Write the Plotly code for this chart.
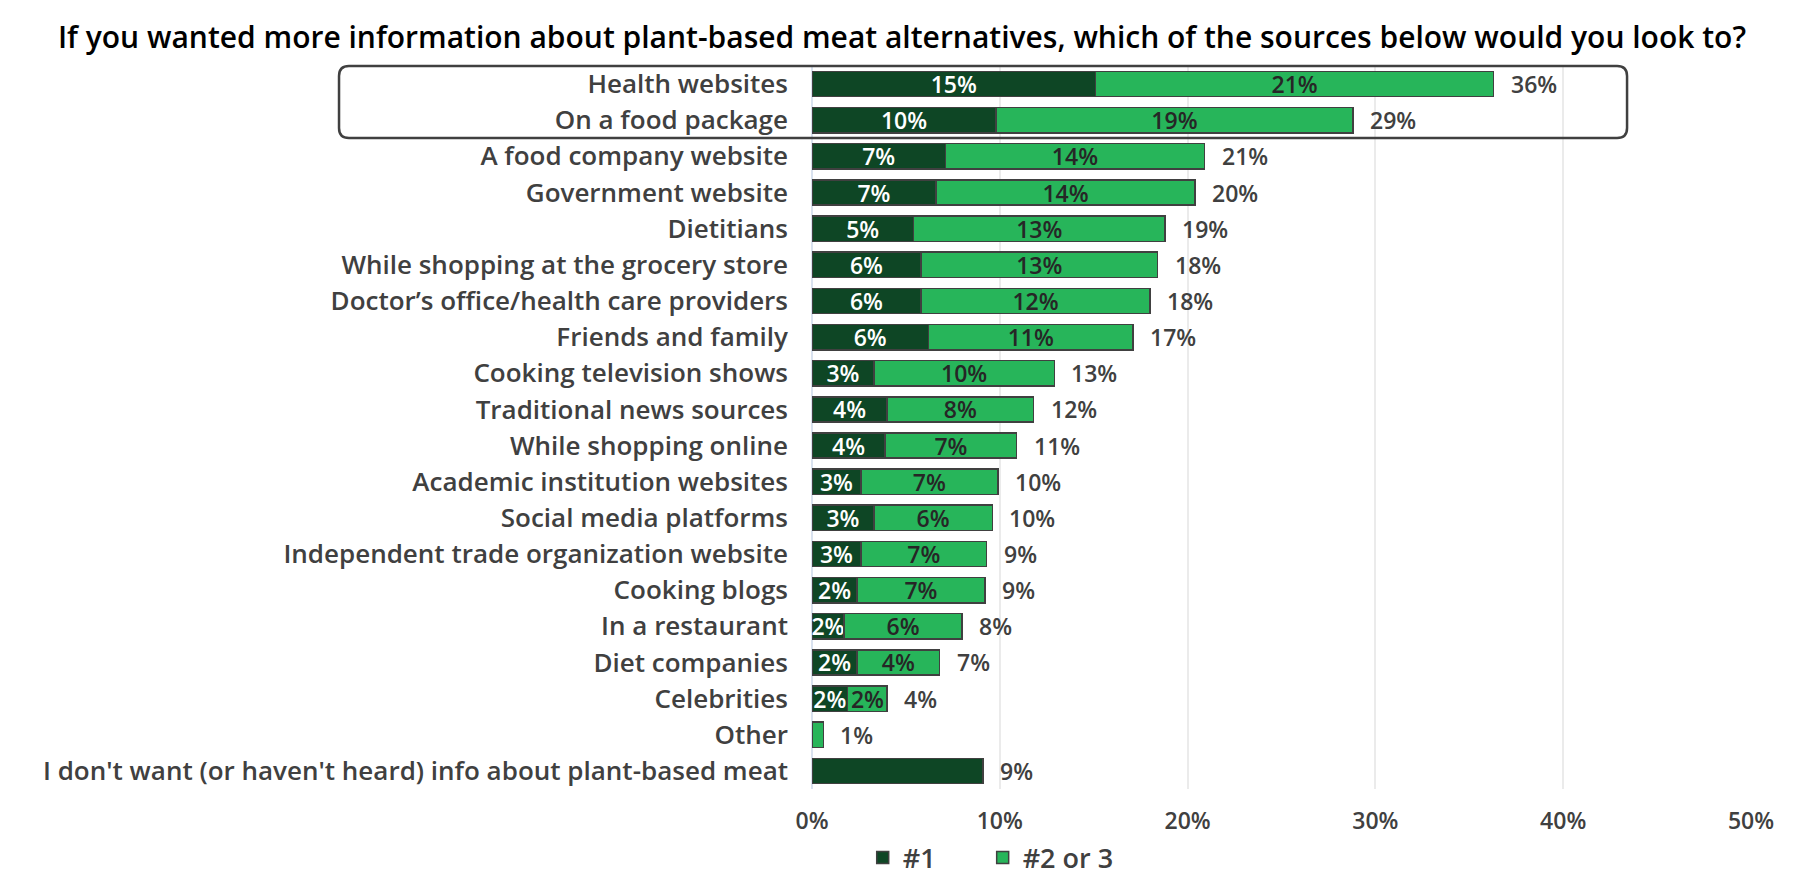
import plotly.graph_objects as go

# Survey: sources respondents would consult about plant-based meat alternatives (% of respondents)
sources = [
    "Health websites",
    "On a food package",
    "A food company website",
    "Government website",
    "Dietitians",
    "While shopping at the grocery store",
    "Doctor\u2019s office/health care providers",
    "Friends and family",
    "Cooking television shows",
    "Traditional news sources",
    "While shopping online",
    "Academic institution websites",
    "Social media platforms",
    "Independent trade organization website",
    "Cooking blogs",
    "In a restaurant",
    "Diet companies",
    "Celebrities",
    "Other",
]
rank_1 = [15.1, 9.8, 7.1, 6.6, 5.4, 5.8, 5.8, 6.2, 3.3, 4.0, 3.9, 2.6, 3.3, 2.6, 2.4, 1.7, 2.4, 1.9, 0.0]
rank_2_or_3 = [21.2, 19.0, 13.8, 13.8, 13.4, 12.6, 12.2, 10.9, 9.6, 7.8, 7.0, 7.3, 6.3, 6.7, 6.8, 6.3, 4.4, 2.1, 0.6]

no_interest_label = "I don't want (or haven't heard) info about plant-based meat"
no_interest_value = 9.1

x_ticks = [0, 10, 20, 30, 40, 50]

DARK = "#0e4625"
LIGHT = "#27b55a"
OUTLINE = "#404040"
TEXT = "#404040"
FONT = "Open Sans"
W = 600

categories = sources + [no_interest_label]


def pct(v):
    return f"{v:.0f}%" if v >= 0.95 else ""


fig = go.Figure()

fig.add_trace(go.Bar(
    name="#1" + "\u00a0" * 6,
    y=sources,
    x=rank_1,
    orientation="h",
    marker=dict(color=DARK, line=dict(color=OUTLINE, width=1.5)),
    text=[pct(v) for v in rank_1],
    textposition="inside",
    insidetextanchor="middle",
    textfont=dict(color="white", size=23, family=FONT, weight=W),
))
fig.add_trace(go.Bar(
    name="#2 or 3",
    y=sources,
    x=rank_2_or_3,
    orientation="h",
    marker=dict(color=LIGHT, line=dict(color=OUTLINE, width=1.5)),
    text=[pct(v) for v in rank_2_or_3],
    textposition="inside",
    insidetextanchor="middle",
    textfont=dict(color="#262626", size=23, family=FONT, weight=W),
))
fig.add_trace(go.Bar(
    name="No interest",
    y=[no_interest_label],
    x=[no_interest_value],
    orientation="h",
    marker=dict(color=DARK, line=dict(color=OUTLINE, width=1.5)),
    showlegend=False,
))

# Total labels to the right of each stacked bar
totals = [a + b for a, b in zip(rank_1, rank_2_or_3)] + [no_interest_value]
for cat, total in zip(categories, totals):
    fig.add_annotation(
        x=total, y=cat, xref="x", yref="y",
        text=f"{total:.0f}%", showarrow=False,
        xanchor="left", xshift=15,
        font=dict(size=23, color=TEXT, family=FONT, weight=W),
    )

# Rounded highlight frame around the two leading sources
x0, x1 = -0.5037, 0.868
y0, y1 = 0.9004, 1.0
rx, ry = 0.0106, 0.0138
frame = (
    f"M {x0 + rx},{y1} L {x1 - rx},{y1} Q {x1},{y1} {x1},{y1 - ry} "
    f"L {x1},{y0 + ry} Q {x1},{y0} {x1 - rx},{y0} "
    f"L {x0 + rx},{y0} Q {x0},{y0} {x0},{y0 + ry} "
    f"L {x0},{y1 - ry} Q {x0},{y1} {x0 + rx},{y1} Z"
)
fig.add_shape(type="path", path=frame, xref="paper", yref="paper",
              line=dict(color=OUTLINE, width=2.5), layer="above")

fig.update_layout(
    width=1804, height=882,
    margin=dict(l=812, r=53, t=66, b=93),
    paper_bgcolor="white", plot_bgcolor="white",
    barmode="stack", bargap=0.3,
    uniformtext=dict(minsize=23, mode="show"),
    font=dict(family=FONT, size=26, color=TEXT, weight=W),
    title=dict(
        text="If you wanted more information about plant-based meat alternatives, which of the sources below would you look to?",
        x=0.5, xanchor="center", y=1 - 37 / 882, yanchor="middle",
        font=dict(size=30, color="black", family=FONT, weight=W),
    ),
    xaxis=dict(
        range=[0, 50], tickvals=x_ticks, ticktext=[f"{t}%" for t in x_ticks],
        showgrid=True, gridcolor="#ebebeb", gridwidth=1.5,
        zeroline=True, zerolinecolor="#d9e2ef", zerolinewidth=1.5,
        tickfont=dict(size=23, color=TEXT, family=FONT, weight=W),
        ticks="", ticklabelstandoff=16, automargin=False,
    ),
    yaxis=dict(
        categoryorder="array", categoryarray=categories, autorange="reversed",
        tickfont=dict(size=26, color=TEXT, family=FONT, weight=W),
        ticks="", ticklabelstandoff=23, automargin=False,
        showgrid=False,
    ),
    legend=dict(
        orientation="h", x=0.054, xanchor="left",
        yref="container", y=1 - 858 / 882, yanchor="middle",
        font=dict(size=27, color=TEXT, family=FONT, weight=W),
        traceorder="normal", itemwidth=30,
    ),
)

fig.write_html("out.html")
